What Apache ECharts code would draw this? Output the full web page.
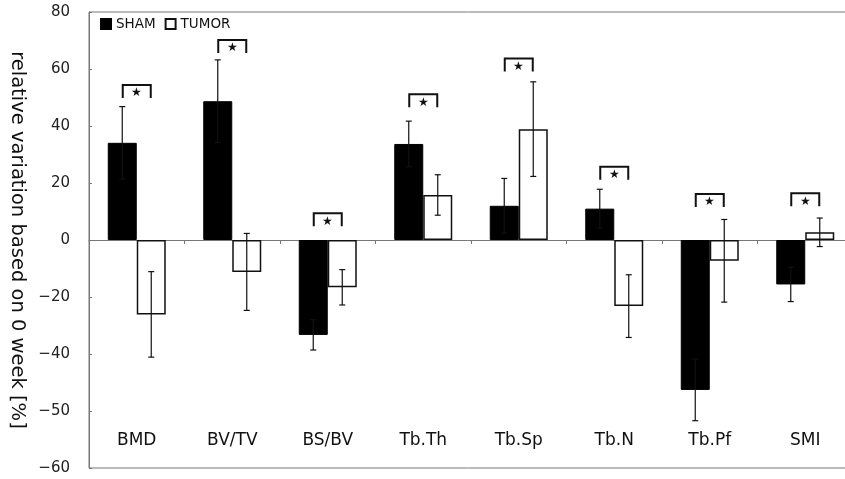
<!DOCTYPE html>
<html>
<head>
<meta charset="utf-8">
<script src="https://cdn.jsdelivr.net/npm/echarts@6/dist/echarts.min.js"></script>
<style>html,body{margin:0;padding:0;background:#fff;}#c{width:845px;height:479px;}</style>
</head>
<body>
<div id="c"></div>
<script>
const categories = ['BMD', 'BV/TV', 'BS/BV', 'Tb.Th', 'Tb.Sp', 'Tb.N', 'Tb.Pf', 'SMI'];
const shamValues = [34.1, 48.7, -33.3, 33.7, 12.0, 11.0, -52.6, -15.6];
const shamErrors = [12.7, 14.5, 5.3, 8.0, 9.6, 6.8, 10.8, 6.0];
const tumorValues = [-26.1, -11.2, -16.6, 15.8, 38.9, -23.2, -7.3, 2.7];
const tumorErrors = [15.0, 13.5, 6.2, 7.1, 16.6, 11.0, 14.5, 5.0];
const sigBracket = [54.4, 70.2, 9.4, 51.1, 63.7, 25.7, 16.1, 16.4];
const yTickValues = [80, 60, 40, 20, 0, -20, -40, -60, -80];
const yTickLabels = ['80', '60', '40', '20', '0', '-20', '-40', '-50', '-60'];

const FONT = 'DejaVu Sans';
const chart = echarts.init(document.getElementById('c'));
const BAR_W = 29;

function errSeries(name, vals, errs, offset) {
  return {
    type: 'custom',
    name: name + ' err',
    xAxisIndex: 0,
    z: 5,
    silent: true,
    data: vals.map((v, i) => [i, v, errs[i]]),
    renderItem: function (params, api) {
      const i = api.value(0), v = api.value(1), e = api.value(2);
      const hi = api.coord([i, v + e]);
      const lo = api.coord([i, v - e]);
      const x = hi[0] + offset;
      const cap = 3;
      const st = { stroke: '#111', lineWidth: 1.2 };
      return {
        type: 'group',
        children: [
          { type: 'line', shape: { x1: x, y1: hi[1], x2: x, y2: lo[1] }, style: st },
          { type: 'line', shape: { x1: x - cap, y1: hi[1], x2: x + cap, y2: hi[1] }, style: st },
          { type: 'line', shape: { x1: x - cap, y1: lo[1], x2: x + cap, y2: lo[1] }, style: st }
        ]
      };
    }
  };
}

chart.setOption({
  backgroundColor: '#fff',
  animation: false,
  grid: { left: 89, top: 12, width: 764, height: 456, outerBoundsMode: 'none', containLabel: false,
          show: true, borderColor: '#777', borderWidth: 1, backgroundColor: '#fff' },
  legend: {
    left: 95, top: 12, itemWidth: 10, itemHeight: 10, itemGap: 9,
    textStyle: { fontFamily: FONT, fontSize: 13.5, color: '#111' },
    data: [{ name: 'SHAM', icon: 'rect' }, { name: 'TUMOR', icon: 'rect' }]
  },
  xAxis: [
    {
      type: 'category', data: categories,
      axisLine: { onZero: true, lineStyle: { color: '#777', width: 1 } },
      axisTick: { show: true, length: 4, lineStyle: { color: '#777' } },
      axisLabel: { show: false },
      splitLine: { show: false }
    },
    {
      type: 'category', data: categories, position: 'bottom',
      axisLine: { show: false, onZero: false },
      axisTick: { show: false },
      axisLabel: { inside: true, margin: 19, fontFamily: FONT, fontSize: 17, color: '#111' }
    }
  ],
  yAxis: {
    type: 'value', min: -80, max: 80, interval: 20,
    name: 'relative variation based on 0 week [%]',
    nameLocation: 'middle', nameRotate: -90, nameGap: 62,
    nameTextStyle: { fontFamily: FONT, fontSize: 19.5, color: '#111' },
    axisLine: { show: true, lineStyle: { color: '#777' } },
    axisTick: { show: true, inside: true, length: 3, lineStyle: { color: '#777' } },
    splitLine: { show: false },
    axisLabel: {
      margin: 19, fontFamily: FONT, fontSize: 15, color: '#222',
      formatter: function (v) {
        const k = yTickValues.indexOf(v);
        return k >= 0 ? yTickLabels[k].replace('-', '\u2212') : '';
      }
    }
  },
  series: [
    {
      name: 'SHAM', type: 'bar', xAxisIndex: 0, data: shamValues,
      barWidth: BAR_W, barGap: '0%',
      itemStyle: { color: '#000', borderColor: '#000', borderWidth: 1 }
    },
    {
      name: 'TUMOR', type: 'bar', xAxisIndex: 0, data: tumorValues,
      barWidth: BAR_W, barGap: '0%',
      itemStyle: { color: '#fff', borderColor: '#111', borderWidth: 1.5 }
    },
    errSeries('SHAM', shamValues, shamErrors, -BAR_W / 2),
    errSeries('TUMOR', tumorValues, tumorErrors, BAR_W / 2),
    {
      type: 'custom', name: 'sig', xAxisIndex: 0, z: 6, silent: true,
      data: sigBracket.map((v, i) => [i, v]),
      renderItem: function (params, api) {
        const p = api.coord([api.value(0), api.value(1)]);
        const x1 = p[0] - 14, x2 = p[0] + 14, y = p[1], leg = 13;
        const st = { stroke: '#111', lineWidth: 2, fill: null };
        return {
          type: 'group',
          children: [
            { type: 'polyline', shape: { points: [[x1, y + leg], [x1, y], [x2, y], [x2, y + leg]] }, style: st },
            { type: 'text', style: { text: '\u2605', x: p[0], y: y + 8, fontSize: 12, fill: '#111', align: 'center', verticalAlign: 'middle' } }
          ]
        };
      }
    }
  ]
});
</script>
</body>
</html>
